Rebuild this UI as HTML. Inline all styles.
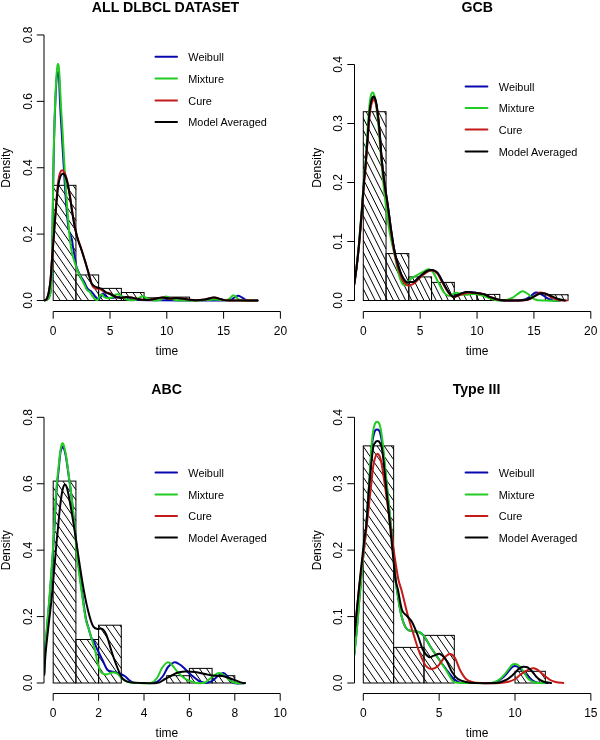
<!DOCTYPE html><html><head><meta charset="utf-8"><style>html,body{margin:0;padding:0;background:#fff;}svg{display:block;will-change:transform;}text{font-family:"Liberation Sans", sans-serif;}</style></head><body>
<svg width="600" height="740" viewBox="0 0 600 740">
<rect width="600" height="740" fill="#fff"/>
<defs><clipPath id="clip0"><rect x="44.20" y="24.40" width="245.40" height="286.80"/></clipPath></defs>
<g><path d="M53.20,300.50L53.20,300.50M53.20,290.22L60.30,300.50M53.20,279.94L67.40,300.50M53.20,269.66L74.50,300.50M53.20,259.38L75.92,292.28M53.20,249.10L75.92,281.99M53.20,238.82L75.92,271.71M53.20,228.53L75.92,261.43M53.20,218.25L75.92,251.15M53.20,207.97L75.92,240.87M53.20,197.69L75.92,230.59M53.20,187.41L75.92,220.31M58.86,185.33L75.92,210.03M65.96,185.33L75.92,199.75M73.06,185.33L75.92,189.47" stroke="#000" stroke-width="1" fill="none"/><rect x="53.20" y="185.33" width="22.72" height="115.17" fill="none" stroke="#000" stroke-width="1"/><path d="M75.92,292.28L81.60,300.50M75.92,281.99L88.70,300.50M78.15,274.94L95.80,300.50M85.25,274.94L98.64,294.33M92.35,274.94L98.64,284.05" stroke="#000" stroke-width="1" fill="none"/><rect x="75.92" y="274.94" width="22.72" height="25.56" fill="none" stroke="#000" stroke-width="1"/><path d="M98.64,294.33L102.90,300.50M101.63,288.39L110.00,300.50M108.73,288.39L117.10,300.50M115.83,288.39L121.36,296.39" stroke="#000" stroke-width="1" fill="none"/><rect x="98.64" y="288.39" width="22.72" height="12.11" fill="none" stroke="#000" stroke-width="1"/><path d="M121.36,296.39L124.20,300.50M125.80,292.53L131.30,300.50M132.90,292.53L138.40,300.50M140.00,292.53L144.08,298.44" stroke="#000" stroke-width="1" fill="none"/><rect x="121.36" y="292.53" width="22.72" height="7.97" fill="none" stroke="#000" stroke-width="1"/><path d="M144.08,298.44L145.50,300.50M150.77,297.84L152.60,300.50M157.87,297.84L159.70,300.50M164.97,297.84L166.80,300.50" stroke="#000" stroke-width="1" fill="none"/><rect x="144.08" y="297.84" width="22.72" height="2.66" fill="none" stroke="#000" stroke-width="1"/><path d="M166.80,300.50L166.80,300.50M171.56,297.11L173.90,300.50M178.66,297.11L181.00,300.50M185.76,297.11L188.10,300.50" stroke="#000" stroke-width="1" fill="none"/><rect x="166.80" y="297.11" width="22.72" height="3.39" fill="none" stroke="#000" stroke-width="1"/></g>
<g clip-path="url(#clip0)"><path d="M44.50,300.50 C44.92,300.37 46.25,300.20 47.00,299.70 C47.75,299.20 48.42,298.78 49.00,297.50 C49.58,296.22 50.12,294.42 50.50,292.00 C50.88,289.58 51.08,287.00 51.30,283.00 C51.52,279.00 51.63,274.33 51.80,268.00 C51.97,261.67 52.13,254.67 52.30,245.00 C52.47,235.33 52.63,221.33 52.80,210.00 C52.97,198.67 53.10,188.17 53.30,177.00 C53.50,165.83 53.77,152.83 54.00,143.00 C54.23,133.17 54.43,125.83 54.70,118.00 C54.97,110.17 55.28,102.50 55.60,96.00 C55.92,89.50 56.20,83.00 56.60,79.00 C57.00,75.00 57.60,72.33 58.00,72.00 C58.40,71.67 58.73,73.67 59.00,77.00 C59.27,80.33 59.37,86.50 59.60,92.00 C59.83,97.50 60.10,104.17 60.40,110.00 C60.70,115.83 61.05,121.00 61.40,127.00 C61.75,133.00 62.13,139.83 62.50,146.00 C62.87,152.17 63.25,158.17 63.60,164.00 C63.95,169.83 64.23,175.17 64.60,181.00 C64.97,186.83 65.37,193.17 65.80,199.00 C66.23,204.83 66.73,211.00 67.20,216.00 C67.67,221.00 68.05,225.83 68.60,229.00 C69.15,232.17 69.93,233.17 70.50,235.00 C71.07,236.83 71.57,237.88 72.00,240.00 C72.43,242.12 72.65,244.93 73.10,247.70 C73.55,250.47 74.15,253.47 74.70,256.60 C75.25,259.73 75.52,263.43 76.40,266.50 C77.28,269.57 78.70,272.42 80.00,275.00 C81.30,277.58 82.95,279.72 84.20,282.00 C85.45,284.28 86.40,287.20 87.50,288.70 C88.60,290.20 89.88,290.20 90.80,291.00 C91.72,291.80 92.27,292.58 93.00,293.50 C93.73,294.42 94.27,295.53 95.20,296.50 C96.13,297.47 97.67,299.30 98.60,299.30 C99.53,299.30 100.07,297.47 100.80,296.50 C101.53,295.53 102.13,293.50 103.00,293.50 C103.87,293.50 104.83,295.75 106.00,296.50 C107.17,297.25 108.50,297.83 110.00,298.00 C111.50,298.17 113.33,297.67 115.00,297.50 C116.67,297.33 118.33,296.83 120.00,297.00 C121.67,297.17 123.33,298.08 125.00,298.50 C126.67,298.92 127.50,299.25 130.00,299.50 C132.50,299.75 135.00,299.87 140.00,300.00 C145.00,300.13 150.00,300.22 160.00,300.30 C170.00,300.38 188.67,300.50 200.00,300.50 C211.33,300.50 222.50,300.63 228.00,300.30 C233.50,299.97 231.33,299.25 233.00,298.50 C234.67,297.75 236.50,295.97 238.00,295.80 C239.50,295.63 240.42,296.72 242.00,297.50 C243.58,298.28 244.92,300.00 247.50,300.50 C250.08,301.00 255.83,300.50 257.50,300.50" stroke="#0808b0" stroke-width="2.00" fill="none" stroke-linejoin="round" stroke-linecap="round"/><path d="M44.50,300.50 C44.92,300.37 46.25,300.20 47.00,299.70 C47.75,299.20 48.42,298.78 49.00,297.50 C49.58,296.22 50.12,294.42 50.50,292.00 C50.88,289.58 51.08,287.00 51.30,283.00 C51.52,279.00 51.63,274.33 51.80,268.00 C51.97,261.67 52.13,254.67 52.30,245.00 C52.47,235.33 52.63,221.67 52.80,210.00 C52.97,198.33 53.10,186.67 53.30,175.00 C53.50,163.33 53.77,150.00 54.00,140.00 C54.23,130.00 54.43,123.00 54.70,115.00 C54.97,107.00 55.28,98.83 55.60,92.00 C55.92,85.17 56.23,78.67 56.60,74.00 C56.98,69.33 57.43,64.67 57.85,64.00 C58.27,63.33 58.73,66.00 59.10,70.00 C59.48,74.00 59.77,81.67 60.10,88.00 C60.43,94.33 60.75,101.83 61.10,108.00 C61.45,114.17 61.83,118.83 62.20,125.00 C62.57,131.17 62.95,138.67 63.30,145.00 C63.65,151.33 63.97,157.17 64.30,163.00 C64.63,168.83 64.93,174.17 65.30,180.00 C65.67,185.83 66.08,192.17 66.50,198.00 C66.92,203.83 67.42,210.00 67.80,215.00 C68.18,220.00 68.43,223.83 68.80,228.00 C69.17,232.17 69.47,235.83 70.00,240.00 C70.53,244.17 71.12,248.95 72.00,253.00 C72.88,257.05 74.28,261.13 75.30,264.30 C76.32,267.47 77.08,269.60 78.10,272.00 C79.12,274.40 80.38,276.65 81.40,278.70 C82.42,280.75 83.28,282.45 84.20,284.30 C85.12,286.15 85.98,288.52 86.90,289.80 C87.82,291.08 88.87,291.08 89.70,292.00 C90.53,292.92 91.02,294.08 91.90,295.30 C92.78,296.52 94.07,298.52 95.00,299.30 C95.93,300.08 96.63,300.67 97.50,300.00 C98.37,299.33 99.45,296.22 100.20,295.30 C100.95,294.38 101.37,294.22 102.00,294.50 C102.63,294.78 103.00,296.38 104.00,297.00 C105.00,297.62 106.67,298.12 108.00,298.20 C109.33,298.28 110.67,298.12 112.00,297.50 C113.33,296.88 114.67,294.92 116.00,294.50 C117.33,294.08 118.67,294.42 120.00,295.00 C121.33,295.58 122.67,297.20 124.00,298.00 C125.33,298.80 126.33,299.43 128.00,299.80 C129.67,300.17 132.00,300.58 134.00,300.20 C136.00,299.82 138.50,298.20 140.00,297.50 C141.50,296.80 141.83,295.83 143.00,296.00 C144.17,296.17 145.33,297.78 147.00,298.50 C148.67,299.22 150.83,300.05 153.00,300.30 C155.17,300.55 158.33,300.38 160.00,300.00 C161.67,299.62 162.00,298.58 163.00,298.00 C164.00,297.42 164.83,296.50 166.00,296.50 C167.17,296.50 168.50,297.42 170.00,298.00 C171.50,298.58 172.50,299.58 175.00,300.00 C177.50,300.42 180.83,300.42 185.00,300.50 C189.17,300.58 195.00,300.67 200.00,300.50 C205.00,300.33 210.83,299.52 215.00,299.50 C219.17,299.48 222.67,300.48 225.00,300.40 C227.33,300.32 227.62,299.85 229.00,299.00 C230.38,298.15 231.88,295.38 233.30,295.30 C234.72,295.22 236.10,297.63 237.50,298.50 C238.90,299.37 238.37,300.17 241.70,300.50 C245.03,300.83 254.87,300.50 257.50,300.50" stroke="#22cc22" stroke-width="2.00" fill="none" stroke-linejoin="round" stroke-linecap="round"/><path d="M44.20,300.30 C44.50,300.22 45.45,300.35 46.00,299.80 C46.55,299.25 47.00,298.47 47.50,297.00 C48.00,295.53 48.48,294.00 49.00,291.00 C49.52,288.00 50.10,284.50 50.60,279.00 C51.10,273.50 51.52,264.83 52.00,258.00 C52.48,251.17 53.00,244.67 53.50,238.00 C54.00,231.33 54.50,224.50 55.00,218.00 C55.50,211.50 55.97,205.00 56.50,199.00 C57.03,193.00 57.62,186.33 58.20,182.00 C58.78,177.67 59.37,174.97 60.00,173.00 C60.63,171.03 61.25,170.28 62.00,170.20 C62.75,170.12 63.67,170.87 64.50,172.50 C65.33,174.13 66.17,176.58 67.00,180.00 C67.83,183.42 68.67,188.00 69.50,193.00 C70.33,198.00 71.17,204.67 72.00,210.00 C72.83,215.33 73.67,220.67 74.50,225.00 C75.33,229.33 76.08,232.67 77.00,236.00 C77.92,239.33 78.92,241.67 80.00,245.00 C81.08,248.33 82.33,252.17 83.50,256.00 C84.67,259.83 85.92,264.33 87.00,268.00 C88.08,271.67 89.08,275.00 90.00,278.00 C90.92,281.00 91.58,284.25 92.50,286.00 C93.42,287.75 94.30,288.00 95.50,288.50 C96.70,289.00 98.45,288.58 99.70,289.00 C100.95,289.42 101.95,290.45 103.00,291.00 C104.05,291.55 104.83,291.88 106.00,292.30 C107.17,292.72 108.67,292.88 110.00,293.50 C111.33,294.12 112.67,295.33 114.00,296.00 C115.33,296.67 116.83,297.17 118.00,297.50 C119.17,297.83 119.67,298.08 121.00,298.00 C122.33,297.92 124.33,297.08 126.00,297.00 C127.67,296.92 129.33,297.25 131.00,297.50 C132.67,297.75 134.17,298.12 136.00,298.50 C137.83,298.88 139.67,299.58 142.00,299.80 C144.33,300.02 147.33,300.10 150.00,299.80 C152.67,299.50 155.83,298.38 158.00,298.00 C160.17,297.62 161.00,297.42 163.00,297.50 C165.00,297.58 167.67,298.42 170.00,298.50 C172.33,298.58 174.50,297.92 177.00,298.00 C179.50,298.08 182.00,298.62 185.00,299.00 C188.00,299.38 191.67,300.22 195.00,300.30 C198.33,300.38 201.83,299.97 205.00,299.50 C208.17,299.03 211.17,297.50 214.00,297.50 C216.83,297.50 219.33,299.00 222.00,299.50 C224.67,300.00 224.08,300.33 230.00,300.50 C235.92,300.67 252.92,300.50 257.50,300.50" stroke="#c41a1a" stroke-width="2.00" fill="none" stroke-linejoin="round" stroke-linecap="round"/><path d="M44.20,300.30 C44.50,300.22 45.45,300.35 46.00,299.80 C46.55,299.25 47.00,298.47 47.50,297.00 C48.00,295.53 48.48,294.00 49.00,291.00 C49.52,288.00 50.10,284.17 50.60,279.00 C51.10,273.83 51.52,266.33 52.00,260.00 C52.48,253.67 53.00,247.50 53.50,241.00 C54.00,234.50 54.50,227.33 55.00,221.00 C55.50,214.67 55.97,208.83 56.50,203.00 C57.03,197.17 57.58,190.33 58.20,186.00 C58.82,181.67 59.47,179.03 60.20,177.00 C60.93,174.97 61.80,174.05 62.60,173.80 C63.40,173.55 64.18,173.97 65.00,175.50 C65.82,177.03 66.67,179.42 67.50,183.00 C68.33,186.58 69.17,191.83 70.00,197.00 C70.83,202.17 71.67,208.83 72.50,214.00 C73.33,219.17 74.08,223.67 75.00,228.00 C75.92,232.33 76.92,236.33 78.00,240.00 C79.08,243.67 80.33,246.50 81.50,250.00 C82.67,253.50 83.92,257.50 85.00,261.00 C86.08,264.50 87.12,267.87 88.00,271.00 C88.88,274.13 89.63,277.63 90.30,279.80 C90.97,281.97 91.22,282.88 92.00,284.00 C92.78,285.12 93.90,285.87 95.00,286.50 C96.10,287.13 97.43,287.38 98.60,287.80 C99.77,288.22 100.77,288.22 102.00,289.00 C103.23,289.78 104.67,291.67 106.00,292.50 C107.33,293.33 108.67,293.42 110.00,294.00 C111.33,294.58 112.67,295.42 114.00,296.00 C115.33,296.58 116.83,297.17 118.00,297.50 C119.17,297.83 119.67,298.08 121.00,298.00 C122.33,297.92 124.33,297.08 126.00,297.00 C127.67,296.92 129.33,297.25 131.00,297.50 C132.67,297.75 134.17,298.12 136.00,298.50 C137.83,298.88 139.67,299.58 142.00,299.80 C144.33,300.02 147.33,300.10 150.00,299.80 C152.67,299.50 155.83,298.38 158.00,298.00 C160.17,297.62 161.00,297.42 163.00,297.50 C165.00,297.58 167.67,298.42 170.00,298.50 C172.33,298.58 174.50,297.92 177.00,298.00 C179.50,298.08 182.00,298.62 185.00,299.00 C188.00,299.38 191.67,300.22 195.00,300.30 C198.33,300.38 201.83,299.97 205.00,299.50 C208.17,299.03 211.17,297.50 214.00,297.50 C216.83,297.50 219.33,299.00 222.00,299.50 C224.67,300.00 224.08,300.33 230.00,300.50 C235.92,300.67 252.92,300.50 257.50,300.50" stroke="#000000" stroke-width="2.00" fill="none" stroke-linejoin="round" stroke-linecap="round"/></g>
<path d="M44.00,300.50L44.00,34.98M36.80,300.50L44.00,300.50M36.80,234.12L44.00,234.12M36.80,167.74L44.00,167.74M36.80,101.36L44.00,101.36M36.80,34.98L44.00,34.98M53.20,311.50L280.40,311.50M53.20,311.50L53.20,318.70M110.00,311.50L110.00,318.70M166.80,311.50L166.80,318.70M223.60,311.50L223.60,318.70M280.40,311.50L280.40,318.70" stroke="#000" stroke-width="1" fill="none"/>
<text transform="translate(31.80,300.50) rotate(-90)" text-anchor="middle" font-size="12.00">0.0</text><text transform="translate(31.80,234.12) rotate(-90)" text-anchor="middle" font-size="12.00">0.2</text><text transform="translate(31.80,167.74) rotate(-90)" text-anchor="middle" font-size="12.00">0.4</text><text transform="translate(31.80,101.36) rotate(-90)" text-anchor="middle" font-size="12.00">0.6</text><text transform="translate(31.80,34.98) rotate(-90)" text-anchor="middle" font-size="12.00">0.8</text><text x="53.20" y="334.60" text-anchor="middle" font-size="12.00">0</text><text x="110.00" y="334.60" text-anchor="middle" font-size="12.00">5</text><text x="166.80" y="334.60" text-anchor="middle" font-size="12.00">10</text><text x="223.60" y="334.60" text-anchor="middle" font-size="12.00">15</text><text x="280.40" y="334.60" text-anchor="middle" font-size="12.00">20</text><text x="166.90" y="355.00" text-anchor="middle" font-size="12.00">time</text><text transform="translate(10.20,167.80) rotate(-90)" text-anchor="middle" font-size="12.00">Density</text><text x="165.50" y="11.80" text-anchor="middle" font-size="14.15" font-weight="bold">ALL DLBCL DATASET</text><line x1="155.50" y1="56.80" x2="177.00" y2="56.80" stroke="#0808b0" stroke-width="2.00" stroke-linecap="round"/><text x="188.30" y="61.00" font-size="10.90">Weibull</text><line x1="155.50" y1="78.50" x2="177.00" y2="78.50" stroke="#22cc22" stroke-width="2.00" stroke-linecap="round"/><text x="188.30" y="82.70" font-size="10.90">Mixture</text><line x1="155.50" y1="100.50" x2="177.00" y2="100.50" stroke="#c41a1a" stroke-width="2.00" stroke-linecap="round"/><text x="188.30" y="104.70" font-size="10.90">Cure</text><line x1="155.50" y1="122.10" x2="177.00" y2="122.10" stroke="#000000" stroke-width="2.00" stroke-linecap="round"/><text x="188.30" y="126.30" font-size="10.90">Model Averaged</text>
<defs><clipPath id="clip1"><rect x="354.30" y="24.40" width="245.60" height="286.80"/></clipPath></defs>
<g><path d="M363.30,288.90L369.10,300.50M363.30,276.70L375.20,300.50M363.30,264.50L381.30,300.50M363.30,252.30L386.05,297.80M363.30,240.10L386.05,285.60M363.30,227.90L386.05,273.40M363.30,215.70L386.05,261.20M363.30,203.50L386.05,249.00M363.30,191.30L386.05,236.80M363.30,179.10L386.05,224.60M363.30,166.90L386.05,212.40M363.30,154.70L386.05,200.20M363.30,142.50L386.05,188.00M363.30,130.30L386.05,175.80M363.30,118.10L386.05,163.60M366.20,111.70L386.05,151.40M372.30,111.70L386.05,139.20M378.40,111.70L386.05,127.00M384.50,111.70L386.05,114.80" stroke="#000" stroke-width="1" fill="none"/><rect x="363.30" y="111.70" width="22.75" height="188.80" fill="none" stroke="#000" stroke-width="1"/><path d="M386.05,297.80L387.40,300.50M386.05,285.60L393.50,300.50M386.05,273.40L399.60,300.50M386.05,261.20L405.70,300.50M388.35,253.59L408.80,294.50M394.45,253.59L408.80,282.30M400.55,253.59L408.80,270.10M406.65,253.59L408.80,257.90" stroke="#000" stroke-width="1" fill="none"/><rect x="386.05" y="253.59" width="22.75" height="46.91" fill="none" stroke="#000" stroke-width="1"/><path d="M408.80,294.50L411.80,300.50M408.80,282.30L417.90,300.50M412.20,276.90L424.00,300.50M418.30,276.90L430.10,300.50M424.40,276.90L431.55,291.20M430.50,276.90L431.55,279.00" stroke="#000" stroke-width="1" fill="none"/><rect x="408.80" y="276.90" width="22.75" height="23.60" fill="none" stroke="#000" stroke-width="1"/><path d="M431.55,291.20L436.20,300.50M433.24,282.39L442.30,300.50M439.34,282.39L448.40,300.50M445.44,282.39L454.30,300.10M451.54,282.39L454.30,287.90" stroke="#000" stroke-width="1" fill="none"/><rect x="431.55" y="282.39" width="22.75" height="18.11" fill="none" stroke="#000" stroke-width="1"/><path d="M454.30,300.10L454.50,300.50M457.56,294.42L460.60,300.50M463.66,294.42L466.70,300.50M469.76,294.42L472.80,300.50M475.86,294.42L477.05,296.80" stroke="#000" stroke-width="1" fill="none"/><rect x="454.30" y="294.42" width="22.75" height="6.08" fill="none" stroke="#000" stroke-width="1"/><path d="M477.05,296.80L478.90,300.50M481.96,294.42L485.00,300.50M488.06,294.42L491.10,300.50M494.16,294.42L497.20,300.50" stroke="#000" stroke-width="1" fill="none"/><rect x="477.05" y="294.42" width="22.75" height="6.08" fill="none" stroke="#000" stroke-width="1"/><path d="M545.30,299.10L546.00,300.50M549.21,294.72L552.10,300.50M555.31,294.72L558.20,300.50M561.41,294.72L564.30,300.50M567.51,294.72L568.05,295.80" stroke="#000" stroke-width="1" fill="none"/><rect x="545.30" y="294.72" width="22.75" height="5.78" fill="none" stroke="#000" stroke-width="1"/></g>
<g clip-path="url(#clip1)"><path d="M354.30,284.00 C354.67,281.33 355.70,274.75 356.50,268.00 C357.30,261.25 358.25,252.53 359.10,243.50 C359.95,234.47 360.77,224.38 361.60,213.80 C362.43,203.22 363.45,187.97 364.10,180.00 C364.75,172.03 364.93,172.83 365.50,166.00 C366.07,159.17 366.83,147.83 367.50,139.00 C368.17,130.17 368.83,119.33 369.50,113.00 C370.17,106.67 370.82,103.58 371.50,101.00 C372.18,98.42 372.92,97.50 373.60,97.50 C374.28,97.50 374.93,98.42 375.60,101.00 C376.27,103.58 376.92,107.67 377.60,113.00 C378.28,118.33 379.02,125.28 379.70,133.00 C380.38,140.72 380.93,151.13 381.70,159.30 C382.47,167.47 383.28,174.33 384.30,182.00 C385.32,189.67 386.65,197.18 387.80,205.30 C388.95,213.42 390.08,223.08 391.20,230.70 C392.32,238.32 393.38,245.37 394.50,251.00 C395.62,256.63 396.63,260.28 397.90,264.50 C399.17,268.72 400.68,273.35 402.10,276.30 C403.52,279.25 405.13,281.25 406.40,282.20 C407.67,283.15 408.32,282.15 409.70,282.00 C411.08,281.85 412.77,282.42 414.70,281.30 C416.63,280.18 419.25,277.02 421.30,275.30 C423.35,273.58 425.22,271.88 427.00,271.00 C428.78,270.12 430.28,269.72 432.00,270.00 C433.72,270.28 435.52,270.70 437.30,272.70 C439.08,274.70 440.92,278.90 442.70,282.00 C444.48,285.10 446.23,288.85 448.00,291.30 C449.77,293.75 451.30,296.25 453.30,296.70 C455.30,297.15 457.77,294.78 460.00,294.00 C462.23,293.22 464.25,292.25 466.70,292.00 C469.15,291.75 472.48,292.25 474.70,292.50 C476.92,292.75 478.28,293.08 480.00,293.50 C481.72,293.92 483.33,294.33 485.00,295.00 C486.67,295.67 487.50,296.63 490.00,297.50 C492.50,298.37 495.83,299.70 500.00,300.20 C504.17,300.70 510.83,300.62 515.00,300.50 C519.17,300.38 522.50,300.17 525.00,299.50 C527.50,298.83 528.20,297.67 530.00,296.50 C531.80,295.33 533.97,292.92 535.80,292.50 C537.63,292.08 539.13,293.08 541.00,294.00 C542.87,294.92 545.00,296.92 547.00,298.00 C549.00,299.08 550.83,300.07 553.00,300.50 C555.17,300.93 558.83,300.58 560.00,300.60" stroke="#0808b0" stroke-width="2.00" fill="none" stroke-linejoin="round" stroke-linecap="round"/><path d="M354.30,283.00 C354.67,280.25 355.70,273.42 356.50,266.50 C357.30,259.58 358.25,250.75 359.10,241.50 C359.95,232.25 360.78,221.58 361.60,211.00 C362.42,200.42 363.35,186.17 364.00,178.00 C364.65,169.83 364.95,169.33 365.50,162.00 C366.05,154.67 366.68,143.00 367.30,134.00 C367.92,125.00 368.62,114.33 369.20,108.00 C369.78,101.67 370.23,98.60 370.80,96.00 C371.37,93.40 371.98,92.40 372.60,92.40 C373.22,92.40 373.85,93.40 374.50,96.00 C375.15,98.60 375.82,102.67 376.50,108.00 C377.18,113.33 377.88,120.17 378.60,128.00 C379.32,135.83 380.07,146.33 380.80,155.00 C381.53,163.67 382.27,172.50 383.00,180.00 C383.73,187.50 384.37,193.00 385.20,200.00 C386.03,207.00 387.00,215.33 388.00,222.00 C389.00,228.67 390.12,234.62 391.20,240.00 C392.28,245.38 393.23,248.53 394.50,254.30 C395.77,260.07 397.38,269.53 398.80,274.60 C400.22,279.67 401.60,283.15 403.00,284.70 C404.40,286.25 405.80,285.02 407.20,283.90 C408.60,282.78 410.38,279.10 411.40,278.00 C412.42,276.90 411.65,278.18 413.30,277.30 C414.95,276.42 418.73,274.03 421.30,272.70 C423.87,271.37 426.70,269.30 428.70,269.30 C430.70,269.30 431.63,270.37 433.30,272.70 C434.97,275.03 436.92,279.97 438.70,283.30 C440.48,286.63 442.23,290.58 444.00,292.70 C445.77,294.82 447.30,296.00 449.30,296.00 C451.30,296.00 453.77,292.92 456.00,292.70 C458.23,292.48 460.70,294.37 462.70,294.70 C464.70,295.03 465.95,294.82 468.00,294.70 C470.05,294.58 472.17,293.70 475.00,294.00 C477.83,294.30 481.67,295.50 485.00,296.50 C488.33,297.50 491.67,299.37 495.00,300.00 C498.33,300.63 502.17,300.63 505.00,300.30 C507.83,299.97 510.00,298.97 512.00,298.00 C514.00,297.03 515.25,295.62 517.00,294.50 C518.75,293.38 520.67,291.38 522.50,291.30 C524.33,291.22 525.92,292.63 528.00,294.00 C530.08,295.37 532.17,298.40 535.00,299.50 C537.83,300.60 540.83,300.42 545.00,300.60 C549.17,300.78 557.50,300.60 560.00,300.60" stroke="#22cc22" stroke-width="2.00" fill="none" stroke-linejoin="round" stroke-linecap="round"/><path d="M354.30,284.50 C354.67,281.83 355.70,275.08 356.50,268.50 C357.30,261.92 358.25,253.75 359.10,245.00 C359.95,236.25 360.77,226.33 361.60,216.00 C362.43,205.67 363.45,190.83 364.10,183.00 C364.75,175.17 364.93,175.83 365.50,169.00 C366.07,162.17 366.83,150.67 367.50,142.00 C368.17,133.33 368.83,123.33 369.50,117.00 C370.17,110.67 370.78,106.83 371.50,104.00 C372.22,101.17 373.05,100.00 373.80,100.00 C374.55,100.00 375.33,101.50 376.00,104.00 C376.67,106.50 377.18,110.00 377.80,115.00 C378.42,120.00 379.05,126.50 379.70,134.00 C380.35,141.50 380.93,151.83 381.70,160.00 C382.47,168.17 383.28,175.17 384.30,183.00 C385.32,190.83 386.65,198.67 387.80,207.00 C388.95,215.33 390.08,225.25 391.20,233.00 C392.32,240.75 393.38,247.83 394.50,253.50 C395.62,259.17 396.63,262.75 397.90,267.00 C399.17,271.25 400.68,276.03 402.10,279.00 C403.52,281.97 405.13,283.75 406.40,284.80 C407.67,285.85 408.32,285.60 409.70,285.30 C411.08,285.00 412.77,284.50 414.70,283.00 C416.63,281.50 419.25,278.13 421.30,276.30 C423.35,274.47 425.22,272.97 427.00,272.00 C428.78,271.03 430.28,270.25 432.00,270.50 C433.72,270.75 435.52,271.42 437.30,273.50 C439.08,275.58 440.92,279.92 442.70,283.00 C444.48,286.08 446.23,289.67 448.00,292.00 C449.77,294.33 451.30,296.50 453.30,297.00 C455.30,297.50 457.77,295.67 460.00,295.00 C462.23,294.33 464.25,293.33 466.70,293.00 C469.15,292.67 472.48,292.92 474.70,293.00 C476.92,293.08 478.28,293.25 480.00,293.50 C481.72,293.75 483.33,293.92 485.00,294.50 C486.67,295.08 487.50,296.08 490.00,297.00 C492.50,297.92 495.83,299.42 500.00,300.00 C504.17,300.58 510.83,300.45 515.00,300.50 C519.17,300.55 522.17,300.72 525.00,300.30 C527.83,299.88 530.00,299.05 532.00,298.00 C534.00,296.95 535.53,294.92 537.00,294.00 C538.47,293.08 539.30,292.50 540.80,292.50 C542.30,292.50 544.13,293.17 546.00,294.00 C547.87,294.83 549.67,296.47 552.00,297.50 C554.33,298.53 557.50,299.70 560.00,300.20 C562.50,300.70 565.83,300.45 567.00,300.50" stroke="#c41a1a" stroke-width="2.00" fill="none" stroke-linejoin="round" stroke-linecap="round"/><path d="M354.30,284.00 C354.67,281.33 355.70,274.75 356.50,268.00 C357.30,261.25 358.25,252.53 359.10,243.50 C359.95,234.47 360.77,224.38 361.60,213.80 C362.43,203.22 363.45,187.97 364.10,180.00 C364.75,172.03 364.93,172.83 365.50,166.00 C366.07,159.17 366.83,148.00 367.50,139.00 C368.17,130.00 368.83,118.50 369.50,112.00 C370.17,105.50 370.82,102.58 371.50,100.00 C372.18,97.42 372.92,96.50 373.60,96.50 C374.28,96.50 374.93,97.42 375.60,100.00 C376.27,102.58 376.92,106.62 377.60,112.00 C378.28,117.38 379.02,124.42 379.70,132.30 C380.38,140.18 380.93,151.02 381.70,159.30 C382.47,167.58 383.28,174.33 384.30,182.00 C385.32,189.67 386.65,197.18 387.80,205.30 C388.95,213.42 390.08,223.08 391.20,230.70 C392.32,238.32 393.38,245.37 394.50,251.00 C395.62,256.63 396.63,260.28 397.90,264.50 C399.17,268.72 400.68,273.35 402.10,276.30 C403.52,279.25 405.13,281.25 406.40,282.20 C407.67,283.15 408.32,282.15 409.70,282.00 C411.08,281.85 412.77,282.42 414.70,281.30 C416.63,280.18 419.25,277.02 421.30,275.30 C423.35,273.58 425.22,271.88 427.00,271.00 C428.78,270.12 430.28,269.72 432.00,270.00 C433.72,270.28 435.52,270.70 437.30,272.70 C439.08,274.70 440.92,278.90 442.70,282.00 C444.48,285.10 446.23,288.85 448.00,291.30 C449.77,293.75 451.30,296.25 453.30,296.70 C455.30,297.15 457.77,294.78 460.00,294.00 C462.23,293.22 464.25,292.22 466.70,292.00 C469.15,291.78 472.48,292.45 474.70,292.70 C476.92,292.95 478.28,293.20 480.00,293.50 C481.72,293.80 483.33,293.92 485.00,294.50 C486.67,295.08 487.50,296.08 490.00,297.00 C492.50,297.92 496.67,299.42 500.00,300.00 C503.33,300.58 505.83,300.50 510.00,300.50 C514.17,300.50 521.67,300.33 525.00,300.00 C528.33,299.67 528.33,299.17 530.00,298.50 C531.67,297.83 533.33,296.83 535.00,296.00 C536.67,295.17 538.33,293.92 540.00,293.50 C541.67,293.08 543.33,293.17 545.00,293.50 C546.67,293.83 547.83,294.58 550.00,295.50 C552.17,296.42 555.50,298.17 558.00,299.00 C560.50,299.83 563.83,300.25 565.00,300.50" stroke="#000000" stroke-width="2.00" fill="none" stroke-linejoin="round" stroke-linecap="round"/></g>
<path d="M354.50,300.50L354.50,64.50M347.30,300.50L354.50,300.50M347.30,241.50L354.50,241.50M347.30,182.50L354.50,182.50M347.30,123.50L354.50,123.50M347.30,64.50L354.50,64.50M363.30,311.50L590.80,311.50M363.30,311.50L363.30,318.70M420.18,311.50L420.18,318.70M477.05,311.50L477.05,318.70M533.92,311.50L533.92,318.70M590.80,311.50L590.80,318.70" stroke="#000" stroke-width="1" fill="none"/>
<text transform="translate(342.30,300.50) rotate(-90)" text-anchor="middle" font-size="12.00">0.0</text><text transform="translate(342.30,241.50) rotate(-90)" text-anchor="middle" font-size="12.00">0.1</text><text transform="translate(342.30,182.50) rotate(-90)" text-anchor="middle" font-size="12.00">0.2</text><text transform="translate(342.30,123.50) rotate(-90)" text-anchor="middle" font-size="12.00">0.3</text><text transform="translate(342.30,64.50) rotate(-90)" text-anchor="middle" font-size="12.00">0.4</text><text x="363.30" y="334.60" text-anchor="middle" font-size="12.00">0</text><text x="420.18" y="334.60" text-anchor="middle" font-size="12.00">5</text><text x="477.05" y="334.60" text-anchor="middle" font-size="12.00">10</text><text x="533.92" y="334.60" text-anchor="middle" font-size="12.00">15</text><text x="590.80" y="334.60" text-anchor="middle" font-size="12.00">20</text><text x="477.10" y="355.00" text-anchor="middle" font-size="12.00">time</text><text transform="translate(320.70,167.80) rotate(-90)" text-anchor="middle" font-size="12.00">Density</text><text x="477.30" y="11.80" text-anchor="middle" font-size="14.15" font-weight="bold">GCB</text><line x1="465.60" y1="86.40" x2="487.40" y2="86.40" stroke="#0808b0" stroke-width="2.00" stroke-linecap="round"/><text x="498.80" y="90.60" font-size="10.90">Weibull</text><line x1="465.60" y1="108.00" x2="487.40" y2="108.00" stroke="#22cc22" stroke-width="2.00" stroke-linecap="round"/><text x="498.80" y="112.20" font-size="10.90">Mixture</text><line x1="465.60" y1="129.60" x2="487.40" y2="129.60" stroke="#c41a1a" stroke-width="2.00" stroke-linecap="round"/><text x="498.80" y="133.80" font-size="10.90">Cure</text><line x1="465.60" y1="151.40" x2="487.40" y2="151.40" stroke="#000000" stroke-width="2.00" stroke-linecap="round"/><text x="498.80" y="155.60" font-size="10.90">Model Averaged</text>
<defs><clipPath id="clip2"><rect x="44.20" y="406.70" width="245.40" height="287.10"/></clipPath></defs>
<g><path d="M53.20,683.00L53.20,683.00M53.20,672.72L60.30,683.00M53.20,662.44L67.40,683.00M53.20,652.16L74.50,683.00M53.20,641.88L75.90,674.75M53.20,631.60L75.90,664.47M53.20,621.32L75.90,654.18M53.20,611.03L75.90,643.90M53.20,600.75L75.90,633.62M53.20,590.47L75.90,623.34M53.20,580.19L75.90,613.06M53.20,569.91L75.90,602.78M53.20,559.63L75.90,592.50M53.20,549.35L75.90,582.22M53.20,539.07L75.90,571.94M53.20,528.79L75.90,561.66M53.20,518.51L75.90,551.38M53.20,508.23L75.90,541.10M53.20,497.95L75.90,530.82M53.20,487.66L75.90,520.53M55.75,481.08L75.90,510.25M62.85,481.08L75.90,499.97M69.95,481.08L75.90,489.69" stroke="#000" stroke-width="1" fill="none"/><rect x="53.20" y="481.08" width="22.70" height="201.92" fill="none" stroke="#000" stroke-width="1"/><path d="M75.90,674.75L81.60,683.00M75.90,664.47L88.70,683.00M75.90,654.18L95.80,683.00M75.90,643.90L98.60,676.77M79.96,639.49L98.60,666.49M87.06,639.49L98.60,656.21M94.16,639.49L98.60,645.93" stroke="#000" stroke-width="1" fill="none"/><rect x="75.90" y="639.49" width="22.70" height="43.51" fill="none" stroke="#000" stroke-width="1"/><path d="M98.60,676.77L102.90,683.00M98.60,666.49L110.00,683.00M98.60,656.21L117.10,683.00M98.60,645.93L121.30,678.80M98.60,635.65L121.30,668.52M98.60,625.37L121.30,658.24M105.59,625.21L121.30,647.96M112.69,625.21L121.30,637.68M119.79,625.21L121.30,627.40" stroke="#000" stroke-width="1" fill="none"/><rect x="98.60" y="625.21" width="22.70" height="57.79" fill="none" stroke="#000" stroke-width="1"/><path d="M166.70,682.86L166.80,683.00M168.85,675.69L173.90,683.00M175.95,675.69L181.00,683.00M183.05,675.69L188.10,683.00" stroke="#000" stroke-width="1" fill="none"/><rect x="166.70" y="675.69" width="22.70" height="7.31" fill="none" stroke="#000" stroke-width="1"/><path d="M189.40,674.60L195.20,683.00M192.21,668.39L202.30,683.00M199.31,668.39L209.40,683.00M206.41,668.39L212.10,676.63" stroke="#000" stroke-width="1" fill="none"/><rect x="189.40" y="668.39" width="22.70" height="14.61" fill="none" stroke="#000" stroke-width="1"/><path d="M212.10,676.63L216.50,683.00M218.55,675.69L223.60,683.00M225.65,675.69L230.70,683.00M232.75,675.69L234.80,678.66" stroke="#000" stroke-width="1" fill="none"/><rect x="212.10" y="675.69" width="22.70" height="7.31" fill="none" stroke="#000" stroke-width="1"/></g>
<g clip-path="url(#clip2)"><path d="M44.20,674.00 C44.33,670.50 44.53,660.67 45.00,653.00 C45.47,645.33 46.30,636.33 47.00,628.00 C47.70,619.67 48.53,611.00 49.20,603.00 C49.87,595.00 50.37,588.50 51.00,580.00 C51.63,571.50 52.40,561.17 53.00,552.00 C53.60,542.83 54.17,532.83 54.60,525.00 C55.03,517.17 55.23,511.17 55.60,505.00 C55.97,498.83 56.40,492.83 56.80,488.00 C57.20,483.17 57.65,479.50 58.00,476.00 C58.35,472.50 58.48,471.00 58.90,467.00 C59.32,463.00 59.90,455.33 60.50,452.00 C61.10,448.67 61.87,447.42 62.50,447.00 C63.13,446.58 63.67,447.50 64.30,449.50 C64.93,451.50 65.52,454.25 66.30,459.00 C67.08,463.75 68.10,471.50 69.00,478.00 C69.90,484.50 70.92,491.33 71.70,498.00 C72.48,504.67 73.07,511.83 73.70,518.00 C74.33,524.17 74.87,528.67 75.50,535.00 C76.13,541.33 76.50,547.17 77.50,556.00 C78.50,564.83 80.15,577.83 81.50,588.00 C82.85,598.17 84.43,610.33 85.60,617.00 C86.77,623.67 87.52,624.50 88.50,628.00 C89.48,631.50 90.62,635.79 91.50,638.00 C92.38,640.21 92.75,639.25 93.75,641.25 C94.75,643.25 96.04,646.88 97.50,650.00 C98.96,653.12 100.83,656.67 102.50,660.00 C104.17,663.33 105.62,668.02 107.50,670.00 C109.38,671.98 111.67,671.27 113.75,671.90 C115.83,672.52 118.12,673.02 120.00,673.75 C121.88,674.48 123.50,675.21 125.00,676.25 C126.50,677.29 127.63,678.94 129.00,680.00 C130.37,681.06 131.37,682.10 133.20,682.60 C135.03,683.10 137.20,682.93 140.00,683.00 C142.80,683.07 147.17,683.17 150.00,683.00 C152.83,682.83 154.83,683.17 157.00,682.00 C159.17,680.83 161.17,678.50 163.00,676.00 C164.83,673.50 166.18,669.27 168.00,667.00 C169.82,664.73 172.07,662.90 173.90,662.40 C175.73,661.90 177.32,663.07 179.00,664.00 C180.68,664.93 182.25,666.42 184.00,668.00 C185.75,669.58 187.67,671.83 189.50,673.50 C191.33,675.17 193.25,676.67 195.00,678.00 C196.75,679.33 198.17,680.67 200.00,681.50 C201.83,682.33 204.00,683.08 206.00,683.00 C208.00,682.92 210.00,682.17 212.00,681.00 C214.00,679.83 216.10,677.33 218.00,676.00 C219.90,674.67 221.73,672.83 223.40,673.00 C225.07,673.17 226.32,675.33 228.00,677.00 C229.68,678.67 230.67,682.00 233.50,683.00 C236.33,684.00 243.08,683.00 245.00,683.00" stroke="#0808b0" stroke-width="2.00" fill="none" stroke-linejoin="round" stroke-linecap="round"/><path d="M44.20,674.00 C44.33,670.33 44.53,660.00 45.00,652.00 C45.47,644.00 46.30,634.67 47.00,626.00 C47.70,617.33 48.53,608.33 49.20,600.00 C49.87,591.67 50.37,584.67 51.00,576.00 C51.63,567.33 52.40,557.33 53.00,548.00 C53.60,538.67 54.17,528.00 54.60,520.00 C55.03,512.00 55.23,506.00 55.60,500.00 C55.97,494.00 56.40,488.67 56.80,484.00 C57.20,479.33 57.65,475.37 58.00,472.00 C58.35,468.63 58.48,467.47 58.90,463.80 C59.32,460.13 59.95,453.38 60.50,450.00 C61.05,446.62 61.62,444.17 62.20,443.50 C62.78,442.83 63.32,443.75 64.00,446.00 C64.68,448.25 65.47,451.78 66.30,457.00 C67.13,462.22 68.10,470.53 69.00,477.30 C69.90,484.07 70.92,490.85 71.70,497.60 C72.48,504.35 73.13,512.40 73.70,517.80 C74.27,523.20 74.60,524.10 75.10,530.00 C75.60,535.90 75.68,543.38 76.70,553.20 C77.72,563.02 79.72,578.00 81.20,588.90 C82.68,599.80 84.38,612.08 85.60,618.60 C86.82,625.12 87.56,624.85 88.50,628.00 C89.44,631.15 90.17,633.83 91.25,637.50 C92.33,641.17 93.96,645.83 95.00,650.00 C96.04,654.17 96.46,658.75 97.50,662.50 C98.54,666.25 99.79,670.52 101.25,672.50 C102.71,674.48 104.38,674.40 106.25,674.40 C108.12,674.40 110.62,672.61 112.50,672.50 C114.38,672.39 116.04,672.92 117.50,673.75 C118.96,674.58 120.00,676.38 121.25,677.50 C122.50,678.62 123.51,679.68 125.00,680.50 C126.49,681.32 127.70,681.98 130.20,682.40 C132.70,682.82 136.53,682.90 140.00,683.00 C143.47,683.10 148.17,683.83 151.00,683.00 C153.83,682.17 155.17,680.50 157.00,678.00 C158.83,675.50 160.25,670.60 162.00,668.00 C163.75,665.40 165.83,662.90 167.50,662.40 C169.17,661.90 170.32,663.40 172.00,665.00 C173.68,666.60 175.60,669.83 177.60,672.00 C179.60,674.17 181.93,676.50 184.00,678.00 C186.07,679.50 187.83,680.17 190.00,681.00 C192.17,681.83 194.50,682.75 197.00,683.00 C199.50,683.25 202.50,683.50 205.00,682.50 C207.50,681.50 209.70,678.58 212.00,677.00 C214.30,675.42 216.63,673.17 218.80,673.00 C220.97,672.83 223.13,674.75 225.00,676.00 C226.87,677.25 228.28,679.33 230.00,680.50 C231.72,681.67 232.80,682.58 235.30,683.00 C237.80,683.42 243.38,683.00 245.00,683.00" stroke="#22cc22" stroke-width="2.00" fill="none" stroke-linejoin="round" stroke-linecap="round"/><path d="M44.20,675.00 C44.45,671.17 44.98,660.17 45.70,652.00 C46.42,643.83 47.53,634.67 48.50,626.00 C49.47,617.33 50.58,609.00 51.50,600.00 C52.42,591.00 53.17,581.50 54.00,572.00 C54.83,562.50 55.83,550.33 56.50,543.00 C57.17,535.67 57.50,533.17 58.00,528.00 C58.50,522.83 58.90,517.50 59.50,512.00 C60.10,506.50 60.97,499.17 61.60,495.00 C62.23,490.83 62.75,488.73 63.30,487.00 C63.85,485.27 64.37,484.68 64.90,484.60 C65.43,484.52 65.93,485.02 66.50,486.50 C67.07,487.98 67.55,489.85 68.30,493.50 C69.05,497.15 70.10,503.22 71.00,508.40 C71.90,513.58 72.75,518.62 73.70,524.60 C74.65,530.58 75.70,537.57 76.70,544.30 C77.70,551.03 78.47,557.07 79.70,565.00 C80.93,572.93 82.62,583.95 84.10,591.90 C85.58,599.85 87.12,607.02 88.60,612.70 C90.08,618.38 91.52,623.28 93.00,626.00 C94.48,628.72 96.25,628.58 97.50,629.00 C98.75,629.42 99.58,628.42 100.50,628.50 C101.42,628.58 102.08,628.58 103.00,629.50 C103.92,630.42 105.08,632.08 106.00,634.00 C106.92,635.92 107.75,638.67 108.50,641.00 C109.25,643.33 109.62,645.17 110.50,648.00 C111.38,650.83 112.58,654.67 113.75,658.00 C114.92,661.33 116.46,665.33 117.50,668.00 C118.54,670.67 119.17,672.25 120.00,674.00 C120.83,675.75 121.30,677.23 122.50,678.50 C123.70,679.77 125.12,680.88 127.20,681.60 C129.28,682.32 130.12,682.57 135.00,682.80 C139.88,683.03 151.50,683.63 156.50,683.00 C161.50,682.37 161.63,680.67 165.00,679.00 C168.37,677.33 173.37,674.25 176.70,673.00 C180.03,671.75 181.95,671.67 185.00,671.50 C188.05,671.33 191.67,671.58 195.00,672.00 C198.33,672.42 202.17,673.42 205.00,674.00 C207.83,674.58 209.08,675.17 212.00,675.50 C214.92,675.83 219.22,675.42 222.50,676.00 C225.78,676.58 228.33,677.83 231.70,679.00 C235.07,680.17 240.48,682.33 242.70,683.00 C244.92,683.67 244.62,683.00 245.00,683.00" stroke="#000000" stroke-width="2.00" fill="none" stroke-linejoin="round" stroke-linecap="round"/></g>
<path d="M44.00,683.00L44.00,417.32M36.80,683.00L44.00,683.00M36.80,616.58L44.00,616.58M36.80,550.16L44.00,550.16M36.80,483.74L44.00,483.74M36.80,417.32L44.00,417.32M53.20,693.50L280.20,693.50M53.20,693.50L53.20,700.70M98.60,693.50L98.60,700.70M144.00,693.50L144.00,700.70M189.40,693.50L189.40,700.70M234.80,693.50L234.80,700.70M280.20,693.50L280.20,700.70" stroke="#000" stroke-width="1" fill="none"/>
<text transform="translate(31.80,683.00) rotate(-90)" text-anchor="middle" font-size="12.00">0.0</text><text transform="translate(31.80,616.58) rotate(-90)" text-anchor="middle" font-size="12.00">0.2</text><text transform="translate(31.80,550.16) rotate(-90)" text-anchor="middle" font-size="12.00">0.4</text><text transform="translate(31.80,483.74) rotate(-90)" text-anchor="middle" font-size="12.00">0.6</text><text transform="translate(31.80,417.32) rotate(-90)" text-anchor="middle" font-size="12.00">0.8</text><text x="53.20" y="717.20" text-anchor="middle" font-size="12.00">0</text><text x="98.60" y="717.20" text-anchor="middle" font-size="12.00">2</text><text x="144.00" y="717.20" text-anchor="middle" font-size="12.00">4</text><text x="189.40" y="717.20" text-anchor="middle" font-size="12.00">6</text><text x="234.80" y="717.20" text-anchor="middle" font-size="12.00">8</text><text x="280.20" y="717.20" text-anchor="middle" font-size="12.00">10</text><text x="166.90" y="736.80" text-anchor="middle" font-size="12.00">time</text><text transform="translate(10.20,550.25) rotate(-90)" text-anchor="middle" font-size="12.00">Density</text><text x="166.60" y="394.20" text-anchor="middle" font-size="14.15" font-weight="bold">ABC</text><line x1="155.50" y1="472.60" x2="177.00" y2="472.60" stroke="#0808b0" stroke-width="2.00" stroke-linecap="round"/><text x="188.30" y="476.80" font-size="10.90">Weibull</text><line x1="155.50" y1="494.40" x2="177.00" y2="494.40" stroke="#22cc22" stroke-width="2.00" stroke-linecap="round"/><text x="188.30" y="498.60" font-size="10.90">Mixture</text><line x1="155.50" y1="516.00" x2="177.00" y2="516.00" stroke="#c41a1a" stroke-width="2.00" stroke-linecap="round"/><text x="188.30" y="520.20" font-size="10.90">Cure</text><line x1="155.50" y1="537.60" x2="177.00" y2="537.60" stroke="#000000" stroke-width="2.00" stroke-linecap="round"/><text x="188.30" y="541.80" font-size="10.90">Model Averaged</text>
<defs><clipPath id="clip3"><rect x="354.40" y="406.70" width="245.50" height="287.10"/></clipPath></defs>
<g><path d="M363.30,683.00L363.30,683.00M363.30,672.72L370.40,683.00M363.30,662.44L377.50,683.00M363.30,652.16L384.60,683.00M363.30,641.88L391.70,683.00M363.30,631.60L393.64,675.53M363.30,621.32L393.64,665.25M363.30,611.03L393.64,654.97M363.30,600.75L393.64,644.69M363.30,590.47L393.64,634.41M363.30,580.19L393.64,624.12M363.30,569.91L393.64,613.84M363.30,559.63L393.64,603.56M363.30,549.35L393.64,593.28M363.30,539.07L393.64,583.00M363.30,528.79L393.64,572.72M363.30,518.51L393.64,562.44M363.30,508.23L393.64,552.16M363.30,497.95L393.64,541.88M363.30,487.66L393.64,531.60M363.30,477.38L393.64,521.32M363.30,467.10L393.64,511.04M363.30,456.82L393.64,500.75M363.30,446.54L393.64,490.47M369.93,445.86L393.64,480.19M377.03,445.86L393.64,469.91M384.13,445.86L393.64,459.63M391.23,445.86L393.64,449.35" stroke="#000" stroke-width="1" fill="none"/><rect x="363.30" y="445.86" width="30.34" height="237.14" fill="none" stroke="#000" stroke-width="1"/><path d="M393.64,675.53L398.80,683.00M393.64,665.25L405.90,683.00M393.64,654.97L413.00,683.00M395.51,647.40L420.10,683.00M402.61,647.40L423.98,678.34M409.71,647.40L423.98,668.06M416.81,647.40L423.98,657.78M423.91,647.40L423.98,647.50" stroke="#000" stroke-width="1" fill="none"/><rect x="393.64" y="647.40" width="30.34" height="35.60" fill="none" stroke="#000" stroke-width="1"/><path d="M423.98,678.34L427.20,683.00M423.98,668.06L434.30,683.00M423.98,657.78L441.40,683.00M423.98,647.50L448.50,683.00M423.98,637.21L454.32,681.15M429.81,635.37L454.32,670.87M436.91,635.37L454.32,660.58M444.01,635.37L454.32,650.30M451.11,635.37L454.32,640.02" stroke="#000" stroke-width="1" fill="none"/><rect x="423.98" y="635.37" width="30.34" height="47.63" fill="none" stroke="#000" stroke-width="1"/><path d="M515.00,676.48L519.50,683.00M518.53,671.31L526.60,683.00M525.63,671.31L533.70,683.00M532.73,671.31L540.80,683.00M539.83,671.31L545.34,679.29" stroke="#000" stroke-width="1" fill="none"/><rect x="515.00" y="671.31" width="30.34" height="11.69" fill="none" stroke="#000" stroke-width="1"/></g>
<g clip-path="url(#clip3)"><path d="M354.40,654.00 C354.83,649.50 356.07,637.33 357.00,627.00 C357.93,616.67 359.00,603.33 360.00,592.00 C361.00,580.67 362.00,569.50 363.00,559.00 C364.00,548.50 365.13,539.17 366.00,529.00 C366.87,518.83 367.53,507.50 368.20,498.00 C368.87,488.50 369.37,480.83 370.00,472.00 C370.63,463.17 371.25,451.67 372.00,445.00 C372.75,438.33 373.65,434.57 374.50,432.00 C375.35,429.43 376.22,429.60 377.10,429.60 C377.98,429.60 378.92,429.43 379.80,432.00 C380.68,434.57 381.65,440.00 382.40,445.00 C383.15,450.00 383.20,451.50 384.30,462.00 C385.40,472.50 387.58,494.17 389.00,508.00 C390.42,521.83 391.70,533.00 392.80,545.00 C393.90,557.00 394.90,572.50 395.60,580.00 C396.30,587.50 396.10,584.33 397.00,590.00 C397.90,595.67 399.50,607.67 401.00,614.00 C402.50,620.33 404.17,625.17 406.00,628.00 C407.83,630.83 409.83,630.33 412.00,631.00 C414.17,631.67 417.00,631.17 419.00,632.00 C421.00,632.83 422.17,633.67 424.00,636.00 C425.83,638.33 427.67,642.33 430.00,646.00 C432.33,649.67 435.33,654.17 438.00,658.00 C440.67,661.83 443.33,665.50 446.00,669.00 C448.67,672.50 451.67,676.73 454.00,679.00 C456.33,681.27 457.33,681.93 460.00,682.60 C462.67,683.27 464.67,682.93 470.00,683.00 C475.33,683.07 487.67,683.17 492.00,683.00 C496.33,682.83 494.50,682.67 496.00,682.00 C497.50,681.33 499.42,680.17 501.00,679.00 C502.58,677.83 504.08,676.50 505.50,675.00 C506.92,673.50 508.33,671.33 509.50,670.00 C510.67,668.67 511.60,667.67 512.50,667.00 C513.40,666.33 513.98,666.00 514.90,666.00 C515.82,666.00 516.90,666.33 518.00,667.00 C519.10,667.67 520.42,669.00 521.50,670.00 C522.58,671.00 523.53,672.08 524.50,673.00 C525.47,673.92 526.38,674.62 527.30,675.50 C528.22,676.38 529.05,677.42 530.00,678.30 C530.95,679.18 532.00,680.13 533.00,680.80 C534.00,681.47 534.67,681.93 536.00,682.30 C537.33,682.67 539.00,682.88 541.00,683.00 C543.00,683.12 546.83,683.00 548.00,683.00" stroke="#0808b0" stroke-width="2.00" fill="none" stroke-linejoin="round" stroke-linecap="round"/><path d="M354.40,655.00 C354.83,650.50 356.07,638.33 357.00,628.00 C357.93,617.67 359.00,604.33 360.00,593.00 C361.00,581.67 362.00,570.50 363.00,560.00 C364.00,549.50 365.13,540.50 366.00,530.00 C366.87,519.50 367.53,507.00 368.20,497.00 C368.87,487.00 369.37,479.50 370.00,470.00 C370.63,460.50 371.25,447.50 372.00,440.00 C372.75,432.50 373.65,428.05 374.50,425.00 C375.35,421.95 376.22,421.70 377.10,421.70 C377.98,421.70 378.92,421.95 379.80,425.00 C380.68,428.05 381.65,434.35 382.40,440.00 C383.15,445.65 383.20,447.87 384.30,458.90 C385.40,469.93 387.58,492.02 389.00,506.20 C390.42,520.38 391.70,531.70 392.80,544.00 C393.90,556.30 394.90,572.33 395.60,580.00 C396.30,587.67 396.10,584.33 397.00,590.00 C397.90,595.67 399.50,607.67 401.00,614.00 C402.50,620.33 404.17,625.17 406.00,628.00 C407.83,630.83 409.83,630.33 412.00,631.00 C414.17,631.67 417.00,631.17 419.00,632.00 C421.00,632.83 422.17,633.67 424.00,636.00 C425.83,638.33 427.67,642.33 430.00,646.00 C432.33,649.67 435.33,654.00 438.00,658.00 C440.67,662.00 443.67,666.33 446.00,670.00 C448.33,673.67 450.33,677.90 452.00,680.00 C453.67,682.10 453.00,682.10 456.00,682.60 C459.00,683.10 464.33,682.93 470.00,683.00 C475.67,683.07 486.00,683.12 490.00,683.00 C494.00,682.88 492.33,682.97 494.00,682.30 C495.67,681.63 498.22,680.33 500.00,679.00 C501.78,677.67 503.25,675.97 504.70,674.30 C506.15,672.63 507.48,670.55 508.70,669.00 C509.92,667.45 511.00,665.83 512.00,665.00 C513.00,664.17 513.70,664.00 514.70,664.00 C515.70,664.00 516.90,664.28 518.00,665.00 C519.10,665.72 520.18,666.85 521.30,668.30 C522.42,669.75 523.70,672.13 524.70,673.70 C525.70,675.27 526.42,676.60 527.30,677.70 C528.18,678.80 529.05,679.58 530.00,680.30 C530.95,681.02 531.72,681.55 533.00,682.00 C534.28,682.45 535.70,682.83 537.70,683.00 C539.70,683.17 543.78,683.00 545.00,683.00" stroke="#22cc22" stroke-width="2.00" fill="none" stroke-linejoin="round" stroke-linecap="round"/><path d="M354.40,635.00 C355.17,627.33 357.33,604.00 359.00,589.00 C360.67,574.00 363.10,555.67 364.40,545.00 C365.70,534.33 365.95,532.50 366.80,525.00 C367.65,517.50 368.72,507.17 369.50,500.00 C370.28,492.83 370.93,487.27 371.50,482.00 C372.07,476.73 372.32,472.40 372.90,468.40 C373.48,464.40 374.27,460.43 375.00,458.00 C375.73,455.57 376.55,454.13 377.30,453.80 C378.05,453.47 378.82,454.52 379.50,456.00 C380.18,457.48 380.45,457.48 381.40,462.70 C382.35,467.92 383.93,478.47 385.20,487.30 C386.47,496.13 387.73,506.25 389.00,515.70 C390.27,525.15 391.70,536.12 392.80,544.00 C393.90,551.88 394.65,557.00 395.60,563.00 C396.55,569.00 397.43,575.17 398.50,580.00 C399.57,584.83 400.42,586.00 402.00,592.00 C403.58,598.00 406.00,608.67 408.00,616.00 C410.00,623.33 412.00,629.67 414.00,636.00 C416.00,642.33 418.00,649.00 420.00,654.00 C422.00,659.00 424.00,663.50 426.00,666.00 C428.00,668.50 430.00,669.00 432.00,669.00 C434.00,669.00 436.00,667.83 438.00,666.00 C440.00,664.17 442.00,660.00 444.00,658.00 C446.00,656.00 448.17,654.00 450.00,654.00 C451.83,654.00 453.33,655.33 455.00,658.00 C456.67,660.67 458.17,666.50 460.00,670.00 C461.83,673.50 464.00,677.00 466.00,679.00 C468.00,681.00 469.67,681.33 472.00,682.00 C474.33,682.67 475.33,682.83 480.00,683.00 C484.67,683.17 495.22,683.22 500.00,683.00 C504.78,682.78 506.15,682.37 508.70,681.70 C511.25,681.03 513.42,680.12 515.30,679.00 C517.18,677.88 518.43,676.22 520.00,675.00 C521.57,673.78 523.25,672.58 524.70,671.70 C526.15,670.82 527.32,670.27 528.70,669.70 C530.08,669.13 531.62,668.33 533.00,668.30 C534.38,668.27 535.78,668.88 537.00,669.50 C538.22,670.12 538.97,670.92 540.30,672.00 C541.63,673.08 543.33,674.67 545.00,676.00 C546.67,677.33 548.52,679.00 550.30,680.00 C552.08,681.00 553.53,681.50 555.70,682.00 C557.87,682.50 562.03,682.83 563.30,683.00" stroke="#c41a1a" stroke-width="2.00" fill="none" stroke-linejoin="round" stroke-linecap="round"/><path d="M354.40,636.00 C355.17,628.00 357.37,604.00 359.00,588.00 C360.63,572.00 362.98,550.50 364.20,540.00 C365.42,529.50 365.48,533.78 366.30,525.00 C367.12,516.22 368.00,499.88 369.10,487.30 C370.20,474.72 371.92,456.88 372.90,449.50 C373.88,442.12 374.23,444.40 375.00,443.00 C375.77,441.60 376.67,441.10 377.50,441.10 C378.33,441.10 379.18,441.28 380.00,443.00 C380.82,444.72 381.37,444.02 382.40,451.40 C383.43,458.78 384.93,475.02 386.20,487.30 C387.47,499.58 388.75,512.48 390.00,525.10 C391.25,537.72 392.77,553.85 393.70,563.00 C394.63,572.15 394.88,575.50 395.60,580.00 C396.32,584.50 396.93,585.00 398.00,590.00 C399.07,595.00 400.50,605.67 402.00,610.00 C403.50,614.33 405.33,614.00 407.00,616.00 C408.67,618.00 410.17,618.67 412.00,622.00 C413.83,625.33 416.17,631.33 418.00,636.00 C419.83,640.67 421.17,646.50 423.00,650.00 C424.83,653.50 427.17,656.07 429.00,657.00 C430.83,657.93 432.17,656.10 434.00,655.60 C435.83,655.10 438.00,653.27 440.00,654.00 C442.00,654.73 444.00,657.00 446.00,660.00 C448.00,663.00 450.00,668.83 452.00,672.00 C454.00,675.17 455.67,677.33 458.00,679.00 C460.33,680.67 463.17,681.33 466.00,682.00 C468.83,682.67 470.17,682.83 475.00,683.00 C479.83,683.17 490.83,683.12 495.00,683.00 C499.17,682.88 498.05,682.85 500.00,682.30 C501.95,681.75 504.70,680.80 506.70,679.70 C508.70,678.60 510.45,677.03 512.00,675.70 C513.55,674.37 514.78,672.93 516.00,671.70 C517.22,670.47 518.08,669.13 519.30,668.30 C520.52,667.47 521.97,666.87 523.30,666.70 C524.63,666.53 526.18,666.87 527.30,667.30 C528.42,667.73 529.05,668.43 530.00,669.30 C530.95,670.17 531.95,671.27 533.00,672.50 C534.05,673.73 535.08,675.45 536.30,676.70 C537.52,677.95 538.97,679.12 540.30,680.00 C541.63,680.88 542.52,681.50 544.30,682.00 C546.08,682.50 549.88,682.83 551.00,683.00" stroke="#000000" stroke-width="2.00" fill="none" stroke-linejoin="round" stroke-linecap="round"/></g>
<path d="M354.50,683.00L354.50,417.30M347.30,683.00L354.50,683.00M347.30,616.58L354.50,616.58M347.30,550.15L354.50,550.15M347.30,483.73L354.50,483.73M347.30,417.30L354.50,417.30M363.30,693.50L590.85,693.50M363.30,693.50L363.30,700.70M439.15,693.50L439.15,700.70M515.00,693.50L515.00,700.70M590.85,693.50L590.85,700.70" stroke="#000" stroke-width="1" fill="none"/>
<text transform="translate(342.30,683.00) rotate(-90)" text-anchor="middle" font-size="12.00">0.0</text><text transform="translate(342.30,616.58) rotate(-90)" text-anchor="middle" font-size="12.00">0.1</text><text transform="translate(342.30,550.15) rotate(-90)" text-anchor="middle" font-size="12.00">0.2</text><text transform="translate(342.30,483.73) rotate(-90)" text-anchor="middle" font-size="12.00">0.3</text><text transform="translate(342.30,417.30) rotate(-90)" text-anchor="middle" font-size="12.00">0.4</text><text x="363.30" y="717.20" text-anchor="middle" font-size="12.00">0</text><text x="439.15" y="717.20" text-anchor="middle" font-size="12.00">5</text><text x="515.00" y="717.20" text-anchor="middle" font-size="12.00">10</text><text x="590.85" y="717.20" text-anchor="middle" font-size="12.00">15</text><text x="477.15" y="736.80" text-anchor="middle" font-size="12.00">time</text><text transform="translate(320.70,550.25) rotate(-90)" text-anchor="middle" font-size="12.00">Density</text><text x="476.50" y="394.30" text-anchor="middle" font-size="14.15" font-weight="bold">Type III</text><line x1="465.60" y1="472.60" x2="487.40" y2="472.60" stroke="#0808b0" stroke-width="2.00" stroke-linecap="round"/><text x="498.80" y="476.80" font-size="10.90">Weibull</text><line x1="465.60" y1="494.40" x2="487.40" y2="494.40" stroke="#22cc22" stroke-width="2.00" stroke-linecap="round"/><text x="498.80" y="498.60" font-size="10.90">Mixture</text><line x1="465.60" y1="516.00" x2="487.40" y2="516.00" stroke="#c41a1a" stroke-width="2.00" stroke-linecap="round"/><text x="498.80" y="520.20" font-size="10.90">Cure</text><line x1="465.60" y1="537.60" x2="487.40" y2="537.60" stroke="#000000" stroke-width="2.00" stroke-linecap="round"/><text x="498.80" y="541.80" font-size="10.90">Model Averaged</text>
</svg></body></html>
